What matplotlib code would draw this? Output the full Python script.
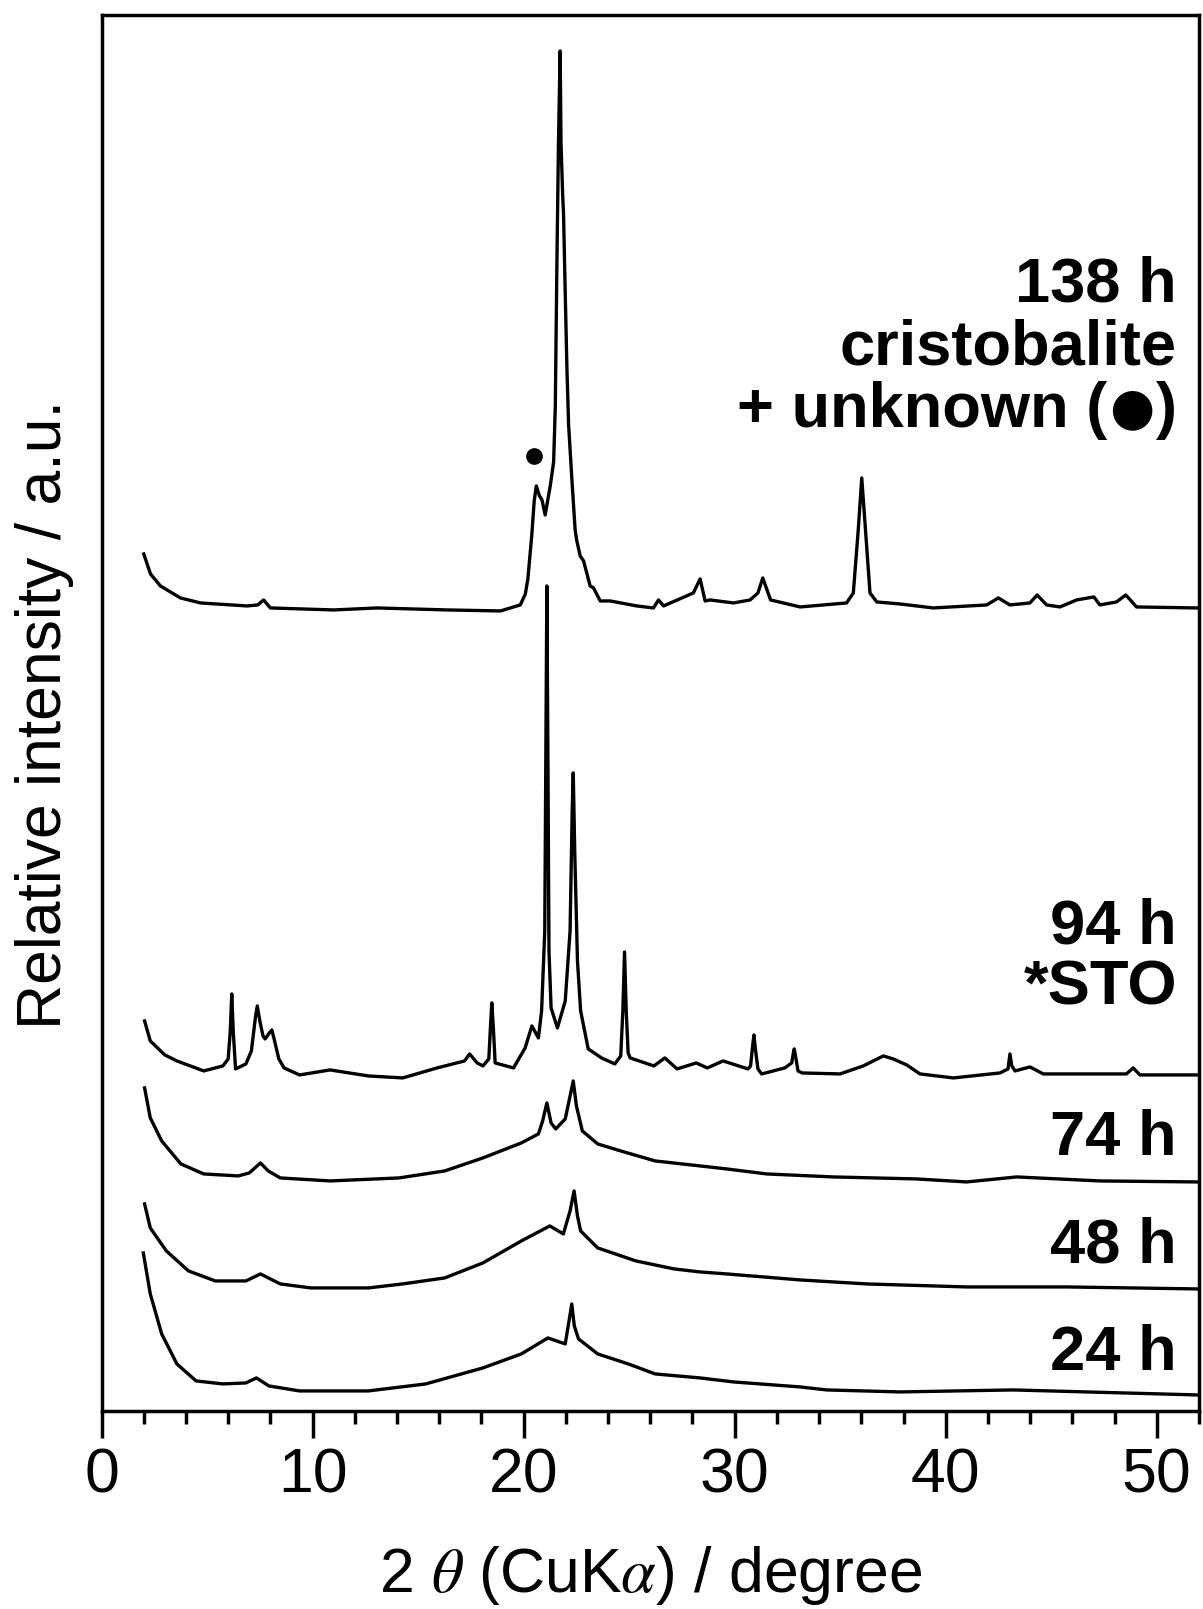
import matplotlib
matplotlib.use("Agg")
import matplotlib.pyplot as plt
from matplotlib.ticker import MultipleLocator

# XRD patterns (2theta in degree, intensity in a.u. = stacked height)
tt_138 = [2.0, 2.32, 2.79, 3.74, 4.69, 6.9, 7.4, 7.68, 8.0, 11.0, 13.05, 16.4, 18.9, 19.68,
          19.84, 20.08, 20.2, 20.39, 20.5, 20.6, 20.75, 20.87, 21.02, 21.26, 21.42, 21.5,
          21.58, 21.65, 21.73, 21.77, 21.85, 21.89, 21.97, 22.05, 22.13, 22.29, 22.44, 22.52,
          22.68, 22.84, 23.15, 23.31, 23.63, 24.1, 25.36, 26.15, 26.39, 26.63, 28.04, 28.36,
          28.6, 28.84, 29.94, 30.73, 31.1, 31.33, 31.7, 33.1, 35.3, 35.62, 35.85, 36.02, 36.2,
          36.41, 36.73, 37.83, 39.41, 41.94, 42.49, 43.04, 43.99, 44.33, 44.78, 45.41, 46.2,
          47.02, 47.3, 48.09, 48.53, 49.04, 51.88, 52.0]
int_138 = [857, 837, 825, 813, 808, 805, 806, 811, 803, 801, 803, 801, 800, 805,
           806, 817, 832, 877, 910, 925, 915, 911, 896, 925, 949, 1005,
           1155, 1268, 1360, 1268, 1215, 1197, 1118, 1043, 986, 930, 881, 870,
           855, 850, 825, 823, 810, 810, 805, 803, 811, 805, 818, 832,
           810, 811, 808, 811, 818, 833, 811, 804, 808, 818, 880, 933, 880,
           818, 809, 807, 803, 806, 813, 806, 808, 816, 806, 804, 811,
           814, 806, 809, 816, 804, 803, 803]

tt_94 = [2.04, 2.31, 3.0, 3.57, 4.84, 5.75, 6.0, 6.1, 6.17, 6.24, 6.35, 6.84, 7.1, 7.3, 7.38,
         7.5, 7.65, 7.75, 7.95, 8.07, 8.2, 8.4, 8.65, 9.38, 10.83, 12.64, 14.27, 15.9, 17.2,
         17.44, 17.8, 18.07, 18.35, 18.43, 18.49, 18.56, 18.65, 19.52, 20.07, 20.39, 20.7,
         20.85, 21.0, 21.05, 21.1, 21.15, 21.2, 21.3, 21.6, 21.97, 22.2, 22.3, 22.35, 22.42,
         22.55, 22.7, 23.06, 23.69, 24.32, 24.6, 24.7, 24.78, 24.86, 24.95, 25.05, 26.17,
         26.69, 27.27, 28.18, 28.7, 29.45, 30.63, 30.75, 30.85, 30.91, 30.98, 31.1, 31.28,
         32.37, 32.7, 32.78, 32.82, 32.88, 33.0, 33.19, 34.99, 36.09, 37.04, 37.51, 38.15,
         38.78, 40.36, 42.57, 42.95, 43.04, 43.13, 43.28, 43.99, 44.62, 48.56, 48.88, 49.2,
         51.9, 52.0]
int_94 = [390, 370, 356, 350, 340, 345, 352, 380, 417, 380, 342, 347, 360, 395, 405,
          390, 375, 372, 378, 381, 370, 352, 343, 336, 341, 335, 333, 343, 350,
          357, 348, 345, 352, 385, 408, 385, 348, 343, 363, 385, 373,
          400, 480, 650, 825, 650, 460, 403, 383, 410, 480, 600, 638, 560,
          450, 400, 362, 353, 347, 355, 400, 459, 400, 358, 353, 345,
          353, 342, 348, 343, 350, 342, 345, 365, 376, 362, 342, 337,
          343, 348, 358, 362, 355, 340, 338, 337, 345, 355, 352, 346,
          337, 333, 338, 342, 357, 345, 340, 344, 337, 337, 343, 336,
          336, 336]

tt_74 = [2.04, 2.31, 2.85, 3.76, 4.84, 6.48, 7.0, 7.53, 7.9, 8.47, 10.83, 14.09, 16.26, 18.07,
         19.89, 20.7, 20.9, 21.1, 21.3, 21.52, 21.97, 22.2, 22.35, 22.5, 22.78, 23.51, 24.6,
         26.23, 28.36, 29.62, 31.52, 34.67, 38.62, 40.99, 43.36, 47.3, 51.9, 52.0]
int_74 = [323, 293, 270, 247, 237, 235, 238, 248, 240, 233, 230, 233, 240, 253,
          268, 277, 290, 308, 288, 282, 292, 315, 330, 305, 280, 267, 260,
          250, 245, 242, 237, 234, 232, 229, 234, 230, 229, 229]

tt_48 = [2.04, 2.31, 3.07, 4.12, 5.39, 6.84, 7.53, 8.47, 9.92, 12.64, 14.27, 16.26, 18.07,
         19.89, 21.24, 21.88, 22.2, 22.39, 22.55, 22.7, 23.51, 25.32, 27.13, 28.36, 29.62,
         33.1, 36.25, 40.99, 45.72, 51.9, 52.0]
int_48 = [207, 183, 160, 140, 130, 130, 137, 127, 123, 123, 127, 133, 148,
          170, 185, 177, 200, 220, 195, 180, 163, 150, 142, 139, 137,
          131, 127, 124, 124, 122, 122]

tt_24 = [1.98, 2.31, 2.85, 3.57, 4.48, 5.75, 6.84, 7.34, 7.93, 9.38, 12.64, 15.36, 18.07,
         19.89, 21.15, 21.97, 22.15, 22.28, 22.4, 22.6, 23.51, 24.96, 26.23, 28.36, 29.94,
         33.1, 34.36, 37.83, 43.2, 51.9, 52.0]
int_24 = [158, 117, 77, 47, 30, 27, 28, 33, 25, 20, 20, 27, 43,
          57, 73, 67, 90, 107, 85, 72, 57, 47, 37, 33, 29,
          24, 21, 19, 21, 16, 16]

# unknown-phase marker over the 138 h pattern
unknown_tt = [20.49]
unknown_int = [955]

labels = ["138 h", "cristobalite", "+ unknown (", "94 h", "*STO", "74 h", "48 h", "24 h"]
label_y = [1109, 1046, 984, 467, 406, 256, 148, 41]

fam = ["Liberation Sans", "DejaVu Sans"]
plt.rcParams["font.family"] = fam
plt.rcParams["mathtext.fontset"] = "stix"

fig = plt.figure(figsize=(12.03, 16.09), dpi=100)
ax = fig.add_axes([0.0844, 0.1231, 0.9123, 0.8676])

for tt, inten in [(tt_138, int_138), (tt_94, int_94), (tt_74, int_74), (tt_48, int_48), (tt_24, int_24)]:
    ax.plot(tt, inten, color="black", lw=2.4, solid_joinstyle="round")

ax.plot(unknown_tt, unknown_int, "o", color="black", ms=11)

xr = 50.95
tfs = 45.5
for txt, y in zip(labels, label_y):
    if txt.endswith("("):
        continue
    ax.text(xr, y, txt, ha="right", va="baseline", fontsize=tfs, fontweight="bold")

# "+ unknown (●)" line: the filled circle is drawn bigger, in DejaVu Sans
ky = label_y[2]
p3 = ax.text(xr, ky, ")", ha="right", va="baseline", fontsize=tfs, fontweight="bold")
fig.canvas.draw()
r = fig.canvas.get_renderer()
inv = ax.transData.inverted()
x3 = inv.transform((p3.get_window_extent(r).x0, 0))[0]
p2 = ax.text(x3, ky + 4, "\u25cf", ha="right", va="baseline", fontsize=tfs * 0.82,
             family="DejaVu Sans", fontweight="bold")
fig.canvas.draw()
x2 = inv.transform((p2.get_window_extent(r).x0, 0))[0]
ax.text(x2, ky, labels[2], ha="right", va="baseline", fontsize=tfs, fontweight="bold")

ax.set_xlim(0, 52)
ax.set_ylim(0, 1396)
ax.set_yticks([])
ax.xaxis.set_major_locator(MultipleLocator(10))
ax.xaxis.set_minor_locator(MultipleLocator(2))
ax.tick_params(axis="x", which="major", direction="out", length=19.5, width=2.5, pad=6, labelsize=45)
ax.tick_params(axis="x", which="minor", direction="out", length=9.5, width=2.5)
for s in ax.spines.values():
    s.set_linewidth(2.5)

ax.set_xlabel(r"2 $\theta$ (CuK$\alpha$) / degree", fontsize=45, labelpad=28)
fig.text(0.0374, 0.5562, "Relative intensity / a.u.", rotation=90, ha="center", va="center", fontsize=45)

fig.savefig("out.png", dpi=100)
